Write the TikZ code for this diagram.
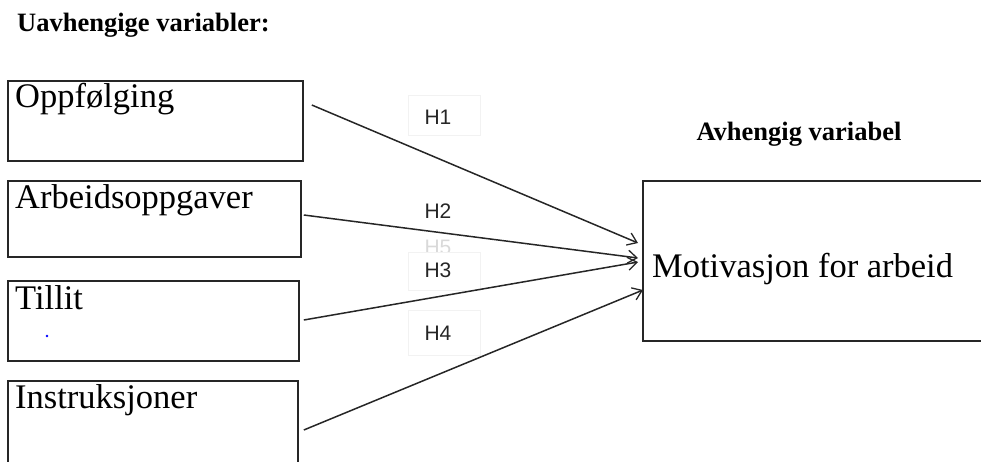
\documentclass[tikz,border=0pt]{standalone}
\usepackage{fontspec}
\setmainfont{Liberation Serif}
\newfontfamily\hfont{Liberation Sans}
\usetikzlibrary{arrows.meta,calc}
\tikzset{
  varbox/.style={draw=black!85, line width=1.8pt, rectangle, anchor=north west, inner sep=0pt},
  boxtext/.style={anchor=base west, inner sep=0pt, font=\fontsize{34.5}{34.5}\selectfont},
  headtext/.style={anchor=base west, inner sep=0pt, font=\fontsize{26.5}{26.5}\selectfont\bfseries},
  hlabel/.style={inner sep=0pt, font=\hfont\fontsize{21}{21}\selectfont, text=black!85},
  hbox/.style={draw=black!5, fill=white, line width=0.8pt},
  arr/.style={line width=1.5pt, draw=black!85, -{Straight Barb[length=9pt,width=13pt,line width=1.3pt]}}
}
\begin{document}
\begin{tikzpicture}[x=1pt,y=-1pt]
\useasboundingbox (0,0) rectangle (981,461);
\clip (0,0) rectangle (981,461);

% headings
\node[headtext] (hind) at (17,31) {Uavhengige variabler:};
\node[headtext, anchor=base] (hdep) at (799,140) {Avhengig variabel};

% independent variables
\node[varbox, minimum width=295pt, minimum height=80pt] (opp) at (7,80) {};
\node[boxtext] (topp) at (15,107) {Oppfølging};
\node[varbox, minimum width=293pt, minimum height=76pt] (arb) at (7,180) {};
\node[boxtext] (tarb) at (15,208) {Arbeidsoppgaver};
\node[varbox, minimum width=291pt, minimum height=80pt] (til) at (7,280) {};
\node[boxtext] (ttil) at (15,309) {Tillit};
\fill[blue] (47,336) circle (1.3pt);
\node[varbox, minimum width=290pt, minimum height=100pt] (ins) at (7,380) {};
\node[boxtext] (tins) at (15,408) {Instruksjoner};

% dependent variable
\node[varbox, minimum width=345pt, minimum height=160pt] (mot) at (642,180) {};
\node[boxtext] (tmot) at (652,277) {Motivasjon for arbeid};

% connector end points
\coordinate (s1) at ($(opp.north east)+(8,25)$);
\coordinate (s2) at ($(arb.north east)+(2,35)$);
\coordinate (s3) at ($(til.north east)+(4,40)$);
\coordinate (s4) at ($(ins.north east)+(5,50)$);
\coordinate (e1) at ($(mot.north west)+(-4,63)$);
\coordinate (e2) at ($(mot.north west)+(-4,78)$);
\coordinate (e3) at ($(mot.north west)+(-4,82)$);
\coordinate (e4) at ($(mot.north west)+(1,110)$);

% hypothesis labels
\node[hlabel, text=black!15] (h5) at (438,247) {H5};
\draw[hbox] (408,95) rectangle (480,135);
\draw[hbox] (408,252) rectangle (480,290);
\draw[hbox] (408,310) rectangle (480,355);
\node[hlabel] (h1) at (438,117) {H1};
\node[hlabel] (h2) at (438,211) {H2};
\node[hlabel] (h3) at (438,270) {H3};
\node[hlabel] (h4) at (438,333) {H4};

% paths
\draw[arr] (s1) -- (e1);
\draw[arr] (s2) -- (e2);
\draw[arr] (s3) -- (e3);
\draw[arr] (s4) -- (e4);
\end{tikzpicture}
\end{document}
